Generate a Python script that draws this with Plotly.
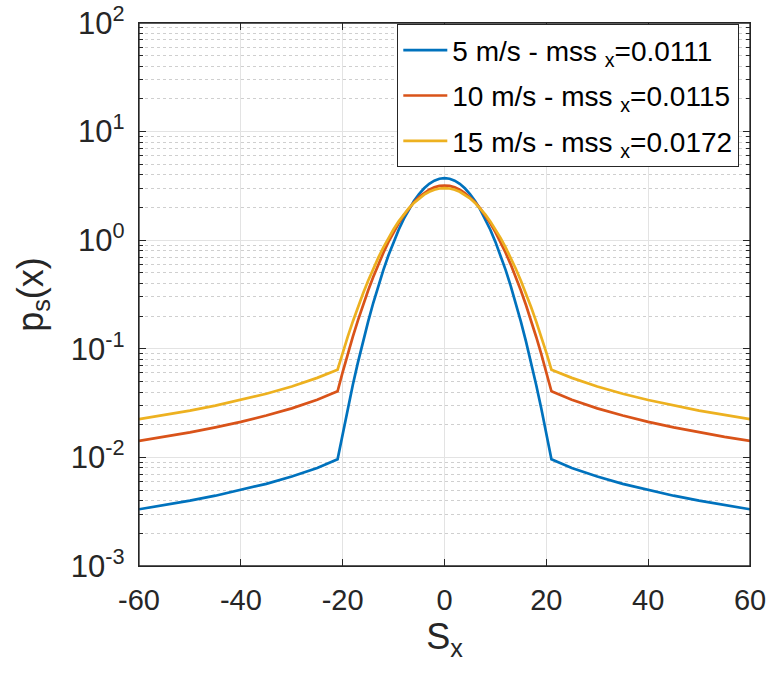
import plotly.graph_objects as go

# Slope values S_x
x_vals = [-60, -55, -50, -45, -40, -35, -30, -25, -21,
          -20, -19, -18, -17, -16, -15, -14, -13, -12, -11, -10, -9, -8, -7, -6, -5, -4, -3, -2, -1,
          0,
          1, 2, 3, 4, 5, 6, 7, 8, 9, 10, 11, 12, 13, 14, 15, 16, 17, 18, 19, 20,
          21, 25, 30, 35, 40, 45, 50, 55, 60]

p_5ms = [0.00333, 0.00364, 0.0040, 0.00444, 0.0050, 0.00571, 0.00667, 0.0080, 0.0096,
         0.0167, 0.0283, 0.0467, 0.0750, 0.117, 0.1781, 0.264, 0.3797, 0.533, 0.7266,
         0.965, 1.248, 1.570, 1.923, 2.293, 2.660, 3.005, 3.303, 3.534, 3.680,
         3.73,
         3.680, 3.534, 3.303, 3.005, 2.660, 2.293, 1.923, 1.570, 1.248, 0.965,
         0.7266, 0.533, 0.3797, 0.264, 0.1781, 0.117, 0.0750, 0.0467, 0.0283, 0.0167,
         0.0096, 0.0080, 0.00667, 0.00571, 0.0050, 0.00444, 0.0040, 0.00364, 0.00333]

p_10ms = [0.01417, 0.01545, 0.0170, 0.0189, 0.02125, 0.0243, 0.0283, 0.0340, 0.0406,
          0.0609, 0.0896, 0.1292, 0.1827, 0.2533, 0.3442, 0.4585, 0.5990, 0.767, 0.9633,
          1.186, 1.431, 1.693, 1.964, 2.234, 2.491, 2.723, 2.918, 3.066, 3.159,
          3.19,
          3.159, 3.066, 2.918, 2.723, 2.491, 2.234, 1.964, 1.693, 1.431, 1.186,
          0.9633, 0.767, 0.5990, 0.4585, 0.3442, 0.2533, 0.1827, 0.1292, 0.0896, 0.0609,
          0.0406, 0.0340, 0.0283, 0.0243, 0.02125, 0.0189, 0.0170, 0.01545, 0.01417]

p_15ms = [0.0225, 0.0246, 0.027, 0.030, 0.0338, 0.0386, 0.045, 0.054, 0.0643,
          0.0921, 0.1294, 0.1787, 0.2425, 0.3234, 0.4240, 0.546, 0.6911, 0.860, 1.0507,
          1.262, 1.490, 1.728, 1.969, 2.206, 2.428, 2.627, 2.792, 2.916, 2.994,
          3.02,
          2.994, 2.916, 2.792, 2.627, 2.428, 2.206, 1.969, 1.728, 1.490, 1.262,
          1.0507, 0.860, 0.6911, 0.546, 0.4240, 0.3234, 0.2425, 0.1787, 0.1294, 0.0921,
          0.0643, 0.054, 0.045, 0.0386, 0.0338, 0.030, 0.027, 0.0246, 0.0225]

series_names = ["5 m/s - mss <sub>x</sub>=0.0111",
                "10 m/s - mss <sub>x</sub>=0.0115",
                "15 m/s - mss <sub>x</sub>=0.0172"]
series_colors = ["#0072BD", "#D95319", "#EDB120"]

x_ticks = [-60, -40, -20, 0, 20, 40, 60]
y_ticks = [1e-3, 1e-2, 1e-1, 1e0, 1e1, 1e2]
y_ticktext = ["10<sup>-3</sup>", "10<sup>-2</sup>", "10<sup>-1</sup>",
              "10<sup>0</sup>", "10<sup>1</sup>", "10<sup>2</sup>"]
y_minor_ticks = [m * d for d in [1e-3, 1e-2, 1e-1, 1e0, 1e1] for m in range(2, 10)]

FONT = "Liberation Sans, Arial, sans-serif"
AX = "#262626"
GRID = "#e3e3e3"

fig = go.Figure()
for i, (ys, name, col) in enumerate(zip([p_5ms, p_10ms, p_15ms], series_names, series_colors)):
    fig.add_trace(go.Scatter(x=x_vals, y=ys, mode="lines", name=name, legendgroup=f"g{i}",
                             line=dict(color=col, width=2.7)))

fig.update_layout(
    width=768, height=673,
    margin=dict(l=139, r=18, t=23, b=107),
    paper_bgcolor="white", plot_bgcolor="white",
    font=dict(family=FONT, size=29, color=AX),
    legend=dict(x=0.982, y=0.998, xanchor="right", yanchor="top",
                bgcolor="white", bordercolor=AX, borderwidth=1.3,
                font=dict(family=FONT, size=28, color="black"),
                tracegroupgap=6, itemwidth=44),
    showlegend=True,
    shapes=[dict(type="rect", xref="paper", yref="paper", x0=0, x1=1, y0=0, y1=1,
                 line=dict(color=AX, width=1.3), fillcolor="rgba(0,0,0,0)", layer="above")],
)

fig.update_xaxes(
    range=[-60, 60], tickvals=x_ticks, ticktext=[str(v) for v in x_ticks],
    ticks="inside", ticklen=7, tickwidth=1, tickcolor=AX,
    showline=True, linecolor=AX, linewidth=1.3, mirror="allticks",
    showgrid=True, gridcolor=GRID, gridwidth=1, zeroline=False, automargin=False,
    tickfont=dict(family=FONT, size=29, color=AX), ticklabelstandoff=8,
    ticklabeloverflow="allow",
    title=dict(text="S<sub>x</sub>", font=dict(family=FONT, size=36, color=AX), standoff=6),
)

fig.update_yaxes(
    type="log", range=[-3, 2], tickvals=y_ticks, ticktext=y_ticktext,
    ticks="inside", ticklen=7, tickwidth=1, tickcolor=AX,
    showline=True, linecolor=AX, linewidth=1.3, mirror="allticks",
    showgrid=True, gridcolor=GRID, gridwidth=1, zeroline=False, automargin=False,
    tickfont=dict(family=FONT, size=31, color=AX), ticklabelstandoff=7,
    ticklabeloverflow="allow",
    minor=dict(tickmode="array", tickvals=y_minor_ticks, ticks="inside", ticklen=4,
               tickcolor=AX, showgrid=True, gridcolor="#cfcfcf", griddash="dot", gridwidth=1),
    title=dict(text="p<sub>s</sub>(x)", font=dict(family=FONT, size=36, color=AX), standoff=16),
)

fig.write_html("out.html", config={"displayModeBar": False},
               post_script="document.body.style.margin='0';document.body.style.overflow='hidden';")
